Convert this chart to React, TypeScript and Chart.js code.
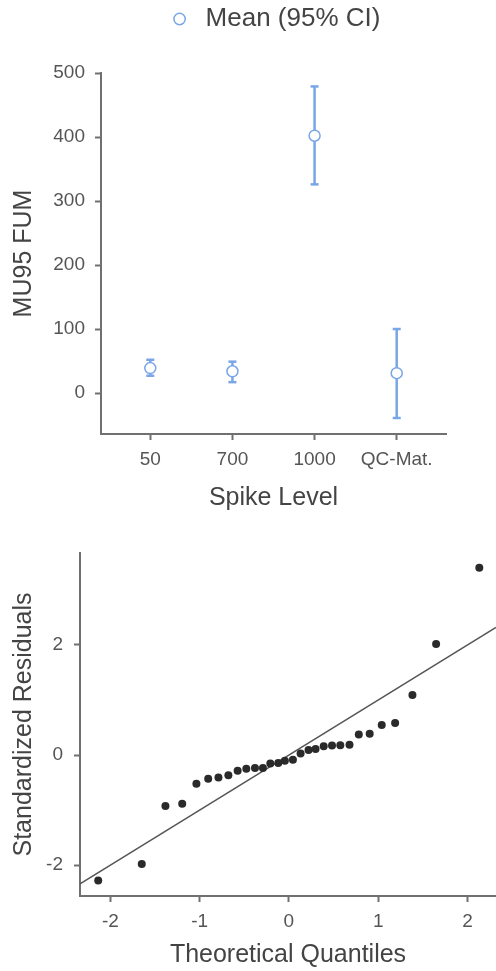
import React, { useEffect, useRef } from "react";
import { Chart, registerables } from "chart.js";

Chart.register(...registerables);

// ---- Top chart data (Mean with 95% CI) ----
const spikeLevels = ["50", "700", "1000", "QC-Mat."];
const meanValues = [39, 34, 402, 31];
const ciLower = [27, 17, 326, -39];
const ciUpper = [52, 49, 479, 100];
const meanTicks = [0, 100, 200, 300, 400, 500];

// ---- Bottom chart data (Q-Q plot) ----
const theoreticalQ = [
  -2.136, -1.648, -1.383, -1.195, -1.036, -0.904, -0.789, -0.678, -0.574, -0.477,
  -0.38, -0.291, -0.208, -0.119, -0.045, 0.045, 0.131, 0.22, 0.299, 0.39,
  0.483, 0.576, 0.679, 0.783, 0.905, 1.04, 1.19, 1.384, 1.649, 2.133,
];
const stdResiduals = [
  -2.28, -1.98, -0.927, -0.885, -0.522, -0.431, -0.409, -0.367, -0.285, -0.249,
  -0.236, -0.236, -0.153, -0.145, -0.104, -0.085, 0.029, 0.093, 0.111, 0.16,
  0.175, 0.178, 0.187, 0.373, 0.387, 0.545, 0.582, 1.091, 2.018, 3.4,
];
const refLineX = [-2.34, 2.32];
const refLineY = [-2.34, 2.32];
const qqTicksX = [-2, -1, 0, 1, 2];
const qqTicksY = [-2, 0, 2];

const FONT = "'Liberation Sans', Arial, Helvetica, sans-serif";
const BLUE = "#7aa5e6";
const AXIS = "#707070";
const TICK = "#555555";
const TITLE = "#444444";

Chart.defaults.font.family = FONT;

const fixLegendHeight = {
  id: "fixLegendHeight",
  beforeLayout(chart: any) {
    const lg = chart.legend;
    if (lg && !lg.__fixed) {
      const fit = lg.fit.bind(lg);
      lg.fit = () => {
        fit();
        lg.height = 73;
      };
      lg.__fixed = true;
    }
  },
};

function axisCommon(tickPad: number) {
  return {
    border: { display: true, color: AXIS, width: 2 },
    grid: {
      display: true,
      drawOnChartArea: false,
      drawTicks: true,
      tickLength: 6,
      tickColor: AXIS,
      tickWidth: 2,
    },
    ticks: {
      color: TICK,
      font: { size: 19 },
      padding: tickPad,
      autoSkip: false,
      maxRotation: 0,
      minRotation: 0,
    },
  };
}

function MeanChart() {
  const ref = useRef<HTMLCanvasElement>(null);
  useEffect(() => {
    if (!ref.current) return;
    const errorData: any[] = [];
    spikeLevels.forEach((_, i) => {
      errorData.push({ x: i, y: ciLower[i] });
      errorData.push({ x: i, y: ciUpper[i] });
      errorData.push({ x: i, y: null });
    });
    const chart = new Chart(ref.current, {
      type: "scatter",
      data: {
        datasets: [
          {
            label: "Mean (95% CI)",
            data: meanValues.map((v, i) => ({ x: i, y: v })),
            pointStyle: "circle",
            pointRadius: 5.5,
            pointBackgroundColor: "#ffffff",
            pointBorderColor: BLUE,
            pointBorderWidth: 1.5,
            backgroundColor: "#ffffff",
            borderColor: BLUE,
            borderWidth: 1.5,
          },
          {
            label: "CI",
            data: errorData,
            showLine: true,
            spanGaps: false,
            borderColor: BLUE,
            borderWidth: 2.5,
            pointStyle: "line",
            pointRadius: 4,
            pointBorderColor: BLUE,
            pointBorderWidth: 2.5,
          } as any,
        ],
      },
      options: {
        responsive: false,
        maintainAspectRatio: false,
        animation: false,
        layout: { autoPadding: false, padding: { left: 0, right: 50, top: 0, bottom: 0 } },
        plugins: {
          tooltip: { enabled: false },
          legend: {
            display: true,
            position: "top",
            fullSize: false,
            labels: {
              filter: (item: any) => item.datasetIndex === 0,
              usePointStyle: true,
              boxWidth: 26,
              boxHeight: 8,
              padding: 6,
              color: TITLE,
              font: { size: 26 },
            },
          },
        },
        scales: {
          x: {
            type: "linear",
            min: -0.6,
            max: 3.6,
            afterBuildTicks: (s: any) => {
              s.ticks = spikeLevels.map((_, i) => ({ value: i }));
            },
            afterFit: (s: any) => {
              s.height = 86;
            },
            ...axisCommon(8),
            ticks: {
              ...axisCommon(8).ticks,
              callback: (v: any) => spikeLevels[Math.round(Number(v))] ?? "",
            },
            title: {
              display: true,
              text: "Spike Level",
              color: TITLE,
              font: { size: 25 },
              padding: { top: 0, bottom: 7 },
            },
          },
          y: {
            min: -64,
            max: 500,
            afterBuildTicks: (s: any) => {
              s.ticks = meanTicks.map((v) => ({ value: v }));
            },
            afterFit: (s: any) => {
              s.width = 101;
            },
            ...axisCommon(10),
            title: {
              display: true,
              text: "MU95 FUM",
              color: TITLE,
              font: { size: 25 },
              padding: { top: 9, bottom: 0 },
            },
          },
        },
      } as any,
      plugins: [fixLegendHeight],
    });
    return () => chart.destroy();
  }, []);
  return <canvas ref={ref} width={496} height={520} style={{ display: "block" }} />;
}

function QQChart() {
  const ref = useRef<HTMLCanvasElement>(null);
  useEffect(() => {
    if (!ref.current) return;
    const chart = new Chart(ref.current, {
      type: "scatter",
      data: {
        datasets: [
          {
            label: "Residuals",
            data: theoreticalQ.map((q, i) => ({ x: q, y: stdResiduals[i] })),
            pointRadius: 4,
            pointBackgroundColor: "#2a2a2a",
            pointBorderColor: "#2a2a2a",
            pointBorderWidth: 0,
          },
          {
            label: "Reference",
            data: refLineX.map((x, i) => ({ x, y: refLineY[i] })),
            showLine: true,
            borderColor: "#555555",
            borderWidth: 1.5,
            pointRadius: 0,
          } as any,
        ],
      },
      options: {
        responsive: false,
        maintainAspectRatio: false,
        animation: false,
        layout: { autoPadding: false, padding: { left: 0, right: 0, top: 33, bottom: 0 } },
        plugins: { legend: { display: false }, tooltip: { enabled: false } },
        scales: {
          x: {
            type: "linear",
            min: -2.34,
            max: 2.32,
            afterBuildTicks: (s: any) => {
              s.ticks = qqTicksX.map((v) => ({ value: v }));
            },
            afterFit: (s: any) => {
              s.height = 75;
            },
            ...axisCommon(8),
            title: {
              display: true,
              text: "Theoretical Quantiles",
              color: TITLE,
              font: { size: 25 },
              padding: { top: 0, bottom: 1 },
            },
          },
          y: {
            min: -2.56,
            max: 3.67,
            afterBuildTicks: (s: any) => {
              s.ticks = qqTicksY.map((v) => ({ value: v }));
            },
            afterFit: (s: any) => {
              s.width = 80;
            },
            ...axisCommon(11),
            title: {
              display: true,
              text: "Standardized Residuals",
              color: TITLE,
              font: { size: 25 },
              padding: { top: 9, bottom: 0 },
            },
          },
        },
      } as any,
    });
    return () => chart.destroy();
  }, []);
  return <canvas ref={ref} width={496} height={451} style={{ display: "block" }} />;
}

export default function App() {
  return (
    <div style={{ position: "absolute", left: 0, top: 0, width: 496, height: 971, background: "#ffffff" }}>
      <MeanChart />
      <QQChart />
    </div>
  );
}
